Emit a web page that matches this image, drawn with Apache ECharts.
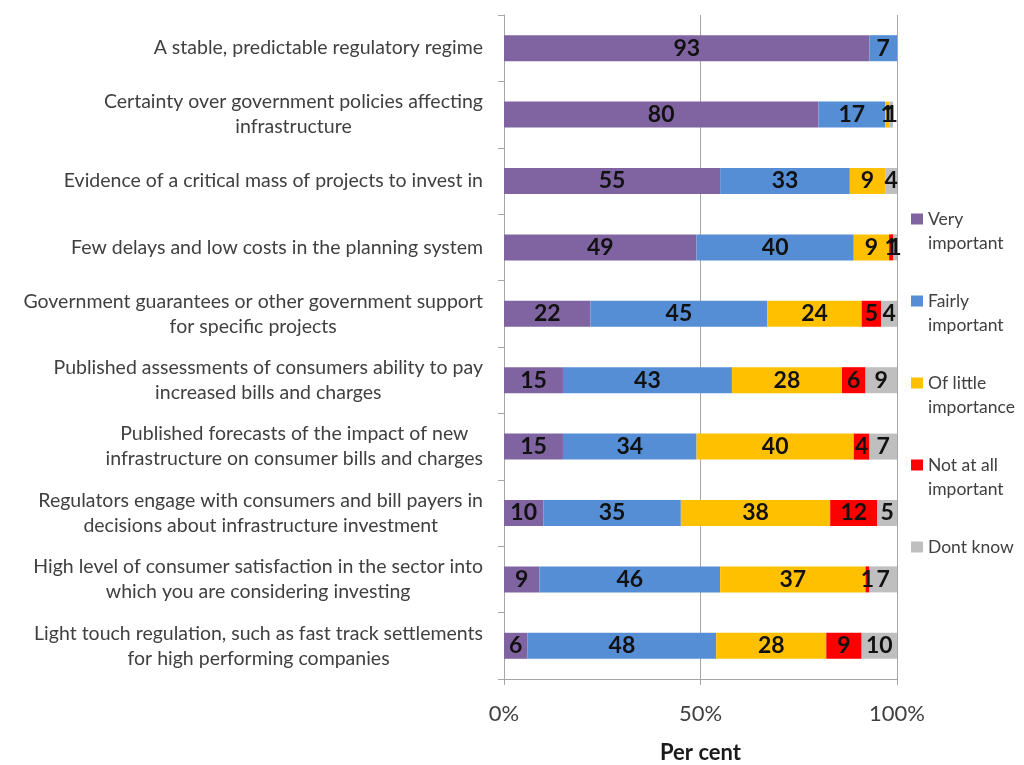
<!DOCTYPE html>
<html>
<head>
<meta charset="utf-8">
<script src="https://cdn.jsdelivr.net/npm/echarts@6/dist/echarts.min.js"></script>
<style>
  html, body { margin: 0; padding: 0; background: #ffffff; }
  #chart { width: 1024px; height: 765px; }
</style>
</head>
<body>
<div id="chart"></div>
<script>
// Survey factors (top to bottom)
const categories = [
  'A stable, predictable regulatory regime',
  'Certainty over government policies affecting\ninfrastructure',
  'Evidence of a critical mass of projects to invest in',
  'Few delays and low costs in the planning system',
  'Government guarantees or other government support\nfor specific projects',
  'Published assessments of consumers ability to pay\nincreased bills and charges',
  'Published forecasts of the impact of new\ninfrastructure on consumer bills and charges',
  'Regulators engage with consumers and bill payers in\ndecisions about infrastructure investment',
  'High level of consumer satisfaction in the sector into\nwhich you are considering investing',
  'Light touch regulation, such as fast track settlements\nfor high performing companies'
];

// Share of respondents (per cent) for each response
const veryImportant    = [93, 80, 55, 49, 22, 15, 15, 10,  9,  6];
const fairlyImportant  = [ 7, 17, 33, 40, 45, 43, 34, 35, 46, 48];
const ofLittleImport   = [ 0,  1,  9,  9, 24, 28, 40, 38, 37, 28];
const notAtAllImport   = [ 0,  0,  0,  1,  5,  6,  4, 12,  1,  9];
const dontKnow         = [ 0,  1,  4,  1,  4,  9,  7,  5,  7, 10];

const seriesNames = ['Very\nimportant', 'Fairly\nimportant', 'Of little\nimportance', 'Not at all\nimportant', 'Dont know'];
const seriesValues = [veryImportant, fairlyImportant, ofLittleImport, notAtAllImport, dontKnow];
const seriesColors = ['#8064A2', '#558ED5', '#FFC000', '#FF0000', '#BFBFBF'];

const xTicks = [0, 50, 100];

const FONT = 'Lato, "Open Sans", sans-serif';
const AXIS_GREY = '#A6A6A6';

const chart = echarts.init(document.getElementById('chart'), null, { renderer: 'canvas' });

const option = {
  backgroundColor: '#ffffff',
  animation: false,
  grid: {
    left: 504, right: 127, top: 15, bottom: 86,
    containLabel: false,
    outerBoundsMode: 'none'
  },
  legend: {
    orient: 'vertical',
    left: 906,
    top: 178,
    itemWidth: 12,
    itemHeight: 11,
    itemGap: 10,
    selectedMode: false,
    icon: 'rect',
    // an empty line above keeps each swatch level with the first line of its text
    formatter: name => '\n' + name + (name.indexOf('\n') < 0 ? '\n' : ''),
    textStyle: { fontFamily: FONT, fontSize: 17.5, color: '#404040', lineHeight: 24 },
    data: seriesNames
  },
  xAxis: {
    type: 'value',
    min: 0,
    max: 100,
    interval: 50,
    name: 'Per cent',
    nameLocation: 'middle',
    nameGap: 63,
    nameTextStyle: { fontFamily: FONT, fontSize: 22, fontWeight: 'bold', color: '#1a1a1a' },
    axisLine: { show: true, lineStyle: { color: AXIS_GREY, width: 1 } },
    axisTick: { show: true, length: 6, lineStyle: { color: AXIS_GREY } },
    axisLabel: {
      margin: 24,
      fontFamily: FONT,
      fontSize: 22,
      color: '#404040',
      formatter: v => (xTicks.includes(v) ? v + '%' : '')
    },
    splitLine: { show: true, lineStyle: { color: AXIS_GREY, width: 1 } }
  },
  yAxis: {
    type: 'category',
    inverse: true,
    data: categories,
    axisLine: { show: true, lineStyle: { color: AXIS_GREY, width: 1 } },
    axisTick: { show: true, length: 6, lineStyle: { color: AXIS_GREY } },
    axisLabel: {
      margin: 21,
      align: 'right',
      interval: 0,
      formatter: v => v.split('\n').map(line => '{c|' + line + '}').join('\n'),
      rich: {
        c: { align: 'center', fontFamily: FONT, fontSize: 19.5, color: '#404040', lineHeight: 25 }
      }
    },
    splitLine: { show: false }
  },
  series: seriesNames.map((name, i) => ({
    name: name,
    type: 'bar',
    stack: 'total',
    barWidth: 26,
    clip: true,
    data: seriesValues[i],
    itemStyle: { color: seriesColors[i] },
    label: {
      show: true,
      position: 'inside',
      fontFamily: FONT,
      fontSize: 23,
      fontWeight: 'bold',
      color: '#111111',
      formatter: p => (p.value ? String(p.value) : '')
    }
  }))
};

chart.setOption(option);
</script>
</body>
</html>
